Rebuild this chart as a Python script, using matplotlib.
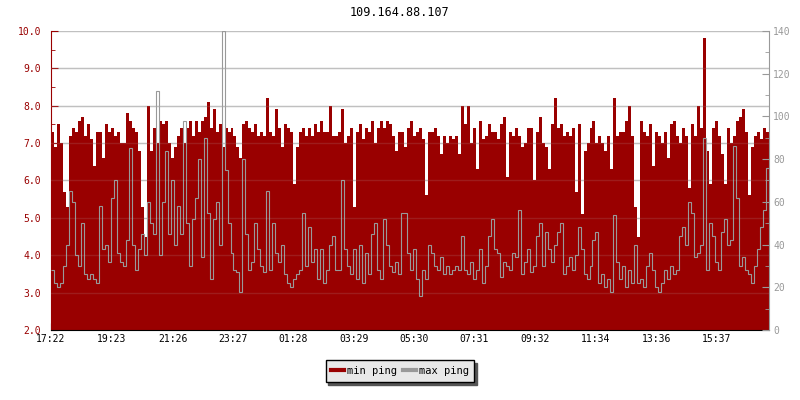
import numpy as np
import matplotlib
matplotlib.use("Agg")
import matplotlib.pyplot as plt
from matplotlib.ticker import MultipleLocator, FormatStrFormatter

# titulo y etiquetas
titulo = "109.164.88.107"
etiquetas_x = ["17:22", "19:23", "21:26", "23:27", "01:28", "03:29",
               "05:30", "07:31", "09:32", "11:34", "13:36", "15:37"]
# minutos desde 17:22 para cada etiqueta
minutos_x = [0, 121, 244, 365, 486, 607, 728, 849, 970, 1092, 1214, 1335]
paso = 6  # minutos por muestra

# min ping (eje izquierdo)
min_ping = [
    7.3, 6.9, 7.5, 7.0, 5.7, 5.3, 7.2, 7.4, 7.3, 7.6, 7.7, 7.2, 7.5, 7.1, 6.4, 7.3,
    7.3, 6.6, 7.5, 7.3, 7.4, 7.2, 7.3, 7.0, 7.0, 7.8, 7.6, 7.4, 7.3, 6.8, 5.3, 4.5,
    8.0, 6.8, 7.4, 7.0, 7.6, 7.5, 7.6, 7.0, 6.6, 6.9, 7.2, 7.4, 7.0, 7.4, 7.6, 7.2,
    7.6, 7.3, 7.6, 7.7, 8.1, 7.4, 7.9, 7.3, 7.5, 6.9, 7.4, 7.3, 7.4, 7.2, 6.9, 6.6,
    7.5, 7.6, 7.4, 7.3, 7.5, 7.2, 7.3, 7.2, 8.2, 7.3, 7.2, 7.9, 7.4, 6.9, 7.5, 7.4,
    7.3, 5.9, 6.9, 7.3, 7.4, 7.2, 7.4, 7.2, 7.5, 7.3, 7.6, 7.3, 7.3, 8.0, 7.2, 7.2,
    7.3, 7.9, 7.0, 7.2, 7.4, 5.3, 7.3, 7.5, 7.1, 7.4, 7.3, 7.6, 7.0, 7.4, 7.6, 7.4,
    7.6, 7.5, 7.2, 6.8, 7.3, 7.3, 6.9, 7.4, 7.6, 7.2, 7.3, 7.4, 7.1, 5.6, 7.3, 7.3,
    7.4, 7.2, 6.7, 7.2, 7.0, 7.2, 7.1, 7.2, 6.7, 8.0, 7.5, 8.0, 7.0, 7.4, 6.3, 7.6,
    7.1, 7.2, 7.5, 7.3, 7.3, 7.1, 7.5, 7.7, 6.1, 7.3, 7.2, 7.4, 7.2, 6.9, 7.0, 7.4,
    7.4, 6.0, 7.3, 7.7, 7.0, 6.9, 6.3, 7.5, 8.2, 7.4, 7.5, 7.2, 7.3, 7.2, 7.4, 5.7,
    7.5, 5.1, 6.8, 7.0, 7.4, 7.6, 7.0, 7.2, 7.0, 6.8, 7.2, 6.3, 8.2, 7.2, 7.3, 7.3,
    7.6, 8.0, 7.2, 5.3, 4.5, 7.6, 7.3, 7.2, 7.5, 6.4, 7.3, 7.2, 7.0, 7.3, 6.6, 7.5,
    7.6, 7.2, 7.0, 7.4, 7.2, 5.8, 7.5, 7.2, 8.0, 7.4, 9.8, 6.8, 5.9, 7.4, 7.6, 7.2,
    6.7, 5.9, 7.4, 7.0, 7.2, 7.6, 7.7, 7.9, 7.3, 5.6, 6.9, 7.2, 7.3, 7.1, 7.4, 7.3,
]

# max ping (eje derecho)
max_ping = [
    28, 22, 20, 22, 30, 40, 65, 60, 35, 30, 50, 26, 24, 26, 24, 22,
    58, 38, 40, 32, 62, 70, 36, 32, 30, 42, 85, 40, 28, 38, 45, 35,
    60, 50, 45, 112, 35, 60, 84, 45, 70, 40, 58, 45, 98, 50, 30, 52,
    62, 80, 34, 90, 55, 24, 52, 60, 40, 140, 75, 50, 36, 28, 27, 18,
    80, 45, 28, 32, 50, 38, 30, 27, 65, 28, 50, 36, 32, 40, 26, 22,
    20, 24, 26, 28, 55, 30, 48, 32, 38, 24, 38, 22, 28, 40, 44, 28,
    28, 70, 38, 30, 26, 38, 24, 40, 22, 36, 26, 45, 50, 28, 24, 52,
    40, 30, 27, 32, 26, 55, 55, 36, 28, 38, 24, 16, 28, 24, 40, 36,
    30, 28, 34, 26, 30, 26, 28, 30, 28, 44, 28, 26, 32, 24, 28, 38,
    22, 30, 44, 52, 38, 36, 25, 32, 30, 28, 36, 34, 56, 26, 32, 38,
    27, 30, 44, 50, 30, 46, 38, 32, 40, 46, 50, 26, 30, 34, 28, 35,
    48, 38, 26, 24, 30, 42, 46, 22, 26, 20, 24, 18, 54, 32, 24, 30,
    20, 28, 22, 40, 22, 24, 20, 30, 36, 28, 20, 18, 22, 28, 24, 30,
    26, 28, 44, 48, 40, 60, 55, 34, 36, 40, 90, 28, 50, 44, 32, 28,
    46, 52, 40, 42, 86, 62, 30, 34, 28, 26, 22, 30, 38, 48, 56, 76,
]

rojo = "#990000"
gris = "#999999"
mono = "DejaVu Sans Mono"

bordes = np.arange(len(min_ping) + 1) * paso

fig = plt.figure(figsize=(8, 4), dpi=100)
ax = fig.add_axes([51 / 800, 70 / 400, 718 / 800, 299 / 400])
ax2 = ax.twinx()

# rejilla detras
for v in range(3, 11):
    ax.axhline(v, color="#c0c0c0", lw=1, zorder=0)

ax.stairs(min_ping, bordes, fill=True, baseline=0, color=rojo, lw=0, zorder=2)
ax2.stairs(max_ping, bordes, baseline=None, color=gris, lw=0.8)

# rejilla tenue encima
for v in range(3, 10):
    ax2.plot([0, 1], [v, v], transform=ax.get_yaxis_transform(),
             color="#c0c0c0", lw=1, alpha=0.15)

ax.set_xlim(0, bordes[-1])
ax.set_ylim(2, 10)
ax2.set_ylim(0, 140)

ax.yaxis.set_major_locator(MultipleLocator(1))
ax.yaxis.set_minor_locator(MultipleLocator(0.5))
ax.yaxis.set_major_formatter(FormatStrFormatter("%.1f"))
ax2.yaxis.set_major_locator(MultipleLocator(20))
ax2.yaxis.set_minor_locator(MultipleLocator(10))

ax.set_xticks(minutos_x)
ax.set_xticklabels(etiquetas_x)

ax.tick_params(axis="y", which="both", direction="in", color=rojo,
               labelcolor=rojo, labelsize=7, pad=7)
ax.tick_params(axis="y", which="major", length=5)
ax.tick_params(axis="y", which="minor", length=3)
ax.tick_params(axis="x", direction="in", length=5, color="black",
               labelsize=7, pad=3)
ax2.tick_params(axis="y", which="both", direction="in", color=gris,
                labelcolor=gris, labelsize=7, pad=3)
ax2.tick_params(axis="y", which="major", length=5)
ax2.tick_params(axis="y", which="minor", length=3)

for lab in ax.get_xticklabels() + ax.get_yticklabels() + ax2.get_yticklabels():
    lab.set_family(mono)

ax.spines["top"].set_visible(False)
ax.spines["right"].set_visible(False)
ax.spines["left"].set_color(rojo)
ax.spines["bottom"].set_color("black")
for s in ["top", "left", "bottom"]:
    ax2.spines[s].set_visible(False)
ax2.spines["right"].set_color(gris)

fig.text(0.5, 1 - 13 / 400, titulo, ha="center", va="center",
         family=mono, fontsize=8.5)

h1 = plt.Line2D([], [], color=rojo, lw=3)
h2 = plt.Line2D([], [], color=gris, lw=3)
leg = fig.legend([h1, h2], ["min ping", "max ping"], loc="center",
                 bbox_to_anchor=(0.5, 1 - 371 / 400), ncol=2,
                 prop={"family": mono, "size": 7.5}, fancybox=False,
                 framealpha=1, facecolor="#e8e8e8", edgecolor="black",
                 shadow={"color": "#555555", "alpha": 1},
                 handlelength=1.2, handletextpad=0.3, columnspacing=0.6,
                 borderpad=0.55)
leg.get_frame().set_linewidth(1)

fig.savefig("out.png", dpi=100)
